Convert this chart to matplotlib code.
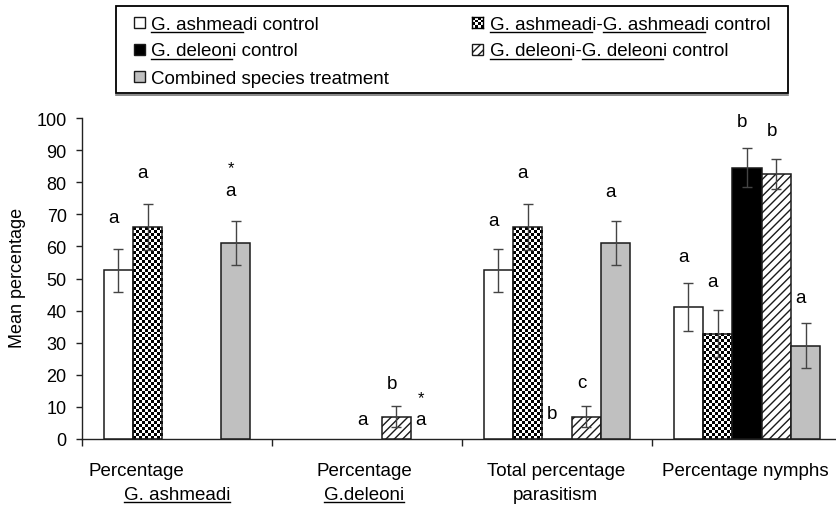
import numpy as np
import matplotlib
matplotlib.use("Agg")
import matplotlib.pyplot as plt
from matplotlib.patches import Rectangle
from matplotlib.lines import Line2D
from matplotlib.font_manager import FontProperties

plt.rcParams["font.family"] = ["Liberation Sans", "DejaVu Sans"]
plt.rcParams["hatch.linewidth"] = 1.0

W, H = 836, 506

nan = np.nan
series = [
    "G. ashmeadi control",
    "G. ashmeadi-G. ashmeadi control",
    "G. deleoni control",
    "G. deleoni-G. deleoni control",
    "Combined species treatment",
]
# character spans of the legend names that are underlined
series_ul = [[(0, 9)], [(0, 10), (12, 22)], [(0, 9)], [(0, 9), (11, 20)], []]

ash_ctrl = [52.5, nan, 52.5, 41.2]
ash_ash = [66.0, nan, 66.0, 32.8]
del_ctrl = [nan, nan, 0.0, 84.5]
del_del = [nan, 7.0, 7.0, 82.5]
combined = [61.0, nan, 61.0, 29.0]

ash_ctrl_err = [6.6, nan, 6.6, 7.4]
ash_ash_err = [7.2, nan, 7.2, 7.4]
del_ctrl_err = [nan, nan, nan, 6.0]
del_del_err = [nan, 3.3, 3.3, 4.6]
combined_err = [6.9, nan, 6.9, 7.0]

# (group, series, y, text)
letters = [
    (0, 0, 69, "a"), (0, 1, 83, "a"), (0, 4, 77.5, "a"), (0, 4, 84.5, "*"),
    (1, 2, 6.2, "a"), (1, 3, 17.4, "b"), (1, 4, 6.2, "a"), (1, 4, 13.0, "*"),
    (2, 0, 68, "a"), (2, 1, 83, "a"), (2, 2, 7.8, "b"), (2, 3, 17.7, "c"), (2, 4, 77, "a"),
    (3, 0, 57, "a"), (3, 1, 49, "a"), (3, 2, 99, "b"), (3, 3, 96, "b"), (3, 4, 44, "a"),
]

# x labels: (group, line, text, underline spans, x shift px)
xlabels = [
    (0, 0, "Percentage", [], -41), (0, 1, "G. ashmeadi", [(0, 11)], 0),
    (1, 0, "Percentage", [], -3), (1, 1, "G.deleoni", [(0, 9)], -3),
    (2, 0, "Total percentage", [], -1), (2, 1, "parasitism", [], -2),
    (3, 0, "Percentage nymphs", [], -2),
]

values = [ash_ctrl, ash_ash, del_ctrl, del_del, combined]
errors = [ash_ctrl_err, ash_ash_err, del_ctrl_err, del_del_err, combined_err]
styles = [
    dict(facecolor="white"),
    dict(facecolor="none"),
    dict(facecolor="black"),
    dict(facecolor="white", hatch="////"),
    dict(facecolor="#c0c0c0"),
]

fig = plt.figure(figsize=(W / 100, H / 100), dpi=100)
ax = fig.add_axes([82 / W, 1 - 440 / H, (842 - 82) / W, (440 - 119) / H])
ax.set_xlim(0, 4)
ax.set_ylim(0, 100)


def checker(ax, bar, cell=3):
    x0, y0 = bar.get_x(), bar.get_y()
    w, h = bar.get_width(), bar.get_height()
    p0 = ax.transData.transform((x0, y0))
    p1 = ax.transData.transform((x0 + w, y0 + h))
    nx = max(1, int(round((p1[0] - p0[0]) / cell)))
    ny = max(1, int(round((p1[1] - p0[1]) / cell)))
    board = np.add.outer(np.arange(ny), np.arange(nx)) % 2
    ax.imshow(board, cmap="gray", vmin=0, vmax=1, origin="lower",
              extent=(x0, x0 + w, y0, y0 + h), aspect="auto",
              interpolation="nearest", zorder=2.5, clip_path=bar)


bw = 29.3 / 190
x = np.arange(4) + 0.5
offsets = (np.arange(5) - 2) * bw

for k, (vals, errs, st) in enumerate(zip(values, errors, styles)):
    bars = ax.bar(x + offsets[k], vals, bw, edgecolor="#1a1a1a",
                  linewidth=1.1, zorder=3, **st)
    if k == 1:
        for b in bars:
            if np.isfinite(b.get_height()):
                checker(ax, b)
    ax.errorbar(x + offsets[k], vals, yerr=errs, fmt="none", ecolor="#444444",
                elinewidth=1, capsize=3.6, capthick=1, zorder=4)

ax.set_xlim(0, 4)
ax.set_ylim(0, 100)

for g, s, y, t in letters:
    size = 12 if t == "*" else 13.5
    ax.text(g + 0.5 + offsets[s] - 0.025, y, t, ha="center", va="center",
            fontsize=size, zorder=5)

for side in ("top", "right"):
    ax.spines[side].set_visible(False)
for side in ("left", "bottom"):
    ax.spines[side].set_linewidth(1.0)
    ax.spines[side].set_color("#222222")
ax.set_yticks(range(0, 101, 10))
ax.set_xticks(range(0, 5))
ax.set_xticklabels([])
ax.tick_params(axis="y", length=4, width=1, labelsize=13, pad=7, color="#222222")
ax.tick_params(axis="x", length=5, width=1, color="#222222")

fig.text(18 / W, 1 - 278 / H, "Mean percentage", rotation=90, ha="center",
         va="center", fontsize=13)

renderer = fig.canvas.get_renderer()
prop = FontProperties(family=["Liberation Sans", "DejaVu Sans"], size=13.5)


def text_w(s):
    if not s:
        return 0.0
    return renderer.get_text_width_height_descent(s, prop, ismath=False)[0]


def place(x_px, yb_px, s, ul=(), ha="center"):
    left = x_px - text_w(s) / 2 if ha == "center" else x_px
    fig.text(left / W, 1 - yb_px / H, s, fontproperties=prop, ha="left",
             va="baseline")
    for a, b in ul:
        x0 = left + text_w(s[:a])
        x1 = left + text_w(s[:b])
        fig.add_artist(Line2D([x0 / W, x1 / W], [1 - (yb_px + 3) / H] * 2,
                              color="black", lw=1.0, transform=fig.transFigure))


for g, line, s, ul, dx in xlabels:
    cx = ax.transData.transform((g + 0.5, 0))[0]
    place(cx + dx, 476 + 24 * line, s, ul)

# legend drawn by hand so parts of the names can be underlined
fig.add_artist(Rectangle((116 / W, 1 - 94 / H), (788 - 116) / W, (94 - 7) / H,
                         transform=fig.transFigure, fill=False,
                         edgecolor="black", lw=1.3))
fig.add_artist(Line2D([116 / W, 788 / W], [1 - 95.5 / H] * 2, color="#777777",
                      lw=1.2, transform=fig.transFigure))
slots = [(0, 0), (1, 0), (0, 1), (1, 1), (0, 2)]
col_sw = [134, 472]
col_tx = [151, 490]
row_c = [23, 50, 77]
for k, (col, row) in enumerate(slots):
    sx, yc = col_sw[col], row_c[row]
    if k == 1:
        sw = fig.add_axes([sx / W, 1 - (yc + 5.5) / H, 11 / W, 11 / H])
        sw.imshow(np.add.outer(np.arange(4), np.arange(4)) % 2, cmap="gray",
                  aspect="auto", interpolation="nearest")
        sw.set_xticks([])
        sw.set_yticks([])
        for sp in sw.spines.values():
            sp.set_linewidth(1.0)
    else:
        st = dict(styles[k])
        fig.add_artist(Rectangle((sx / W, 1 - (yc + 5.5) / H), 11 / W, 11 / H,
                                 transform=fig.transFigure, edgecolor="#1a1a1a",
                                 lw=1.0, **st))
    place(col_tx[col], yc + 6.5, series[k], series_ul[k], ha="left")

fig.savefig("out.png", dpi=100)
